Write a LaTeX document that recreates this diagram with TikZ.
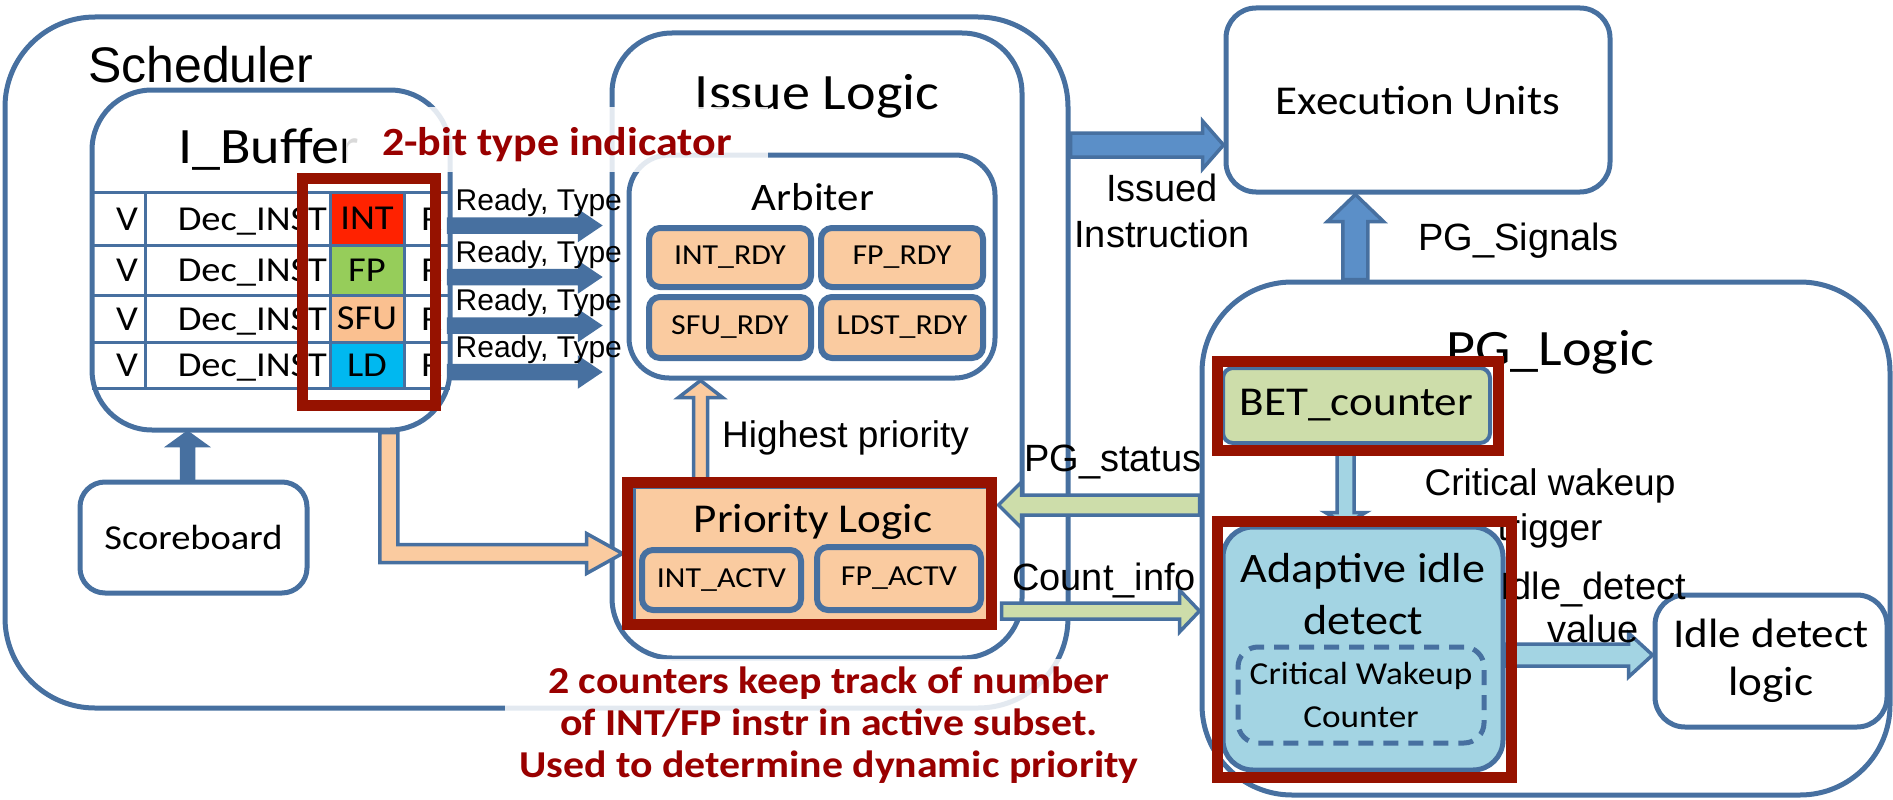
\documentclass[tikz,border=0pt]{standalone}
\usepackage{fontspec}
\setmainfont{Carlito}[FakeStretch=1.1]
\newfontfamily\arialfont{Liberation Sans}
\usetikzlibrary{calc}

\definecolor{boxblue}{RGB}{71,112,160}
\definecolor{arrowblue}{RGB}{91,143,200}
\definecolor{peach}{RGB}{250,203,160}
\definecolor{lightgreen}{RGB}{205,221,170}
\definecolor{lightcyan}{RGB}{163,212,227}
\definecolor{markred}{RGB}{150,18,0}
\definecolor{textred}{RGB}{153,0,0}
\definecolor{intred}{RGB}{255,34,0}
\definecolor{fpgreen}{RGB}{150,205,90}
\definecolor{sfupeach}{RGB}{250,192,144}
\definecolor{ldcyan}{RGB}{0,184,240}

\newcommand{\fsize}[2]{\fontsize{#1pt}{#2pt}\selectfont}
% block arrow: [fill] {from} {to} {half shaft} {half head} {head length}
\newcommand{\blockarrow}[6][]{%
  \coordinate (ba-base) at ($(#3)!#6!(#2)$);
  \draw[arrowline,#1] ($(#2)!#4!90:(#3)$) -- ($(ba-base)!#4!-90:(#2)$)
    -- ($(ba-base)!#5!-90:(#2)$) -- (#3) -- ($(ba-base)!#5!90:(#2)$)
    -- ($(ba-base)!#4!90:(#2)$) -- ($(#2)!#4!-90:(#3)$) -- cycle;
}

\begin{document}
\begin{tikzpicture}[x=1pt, y=-1pt,
  block/.style={draw=boxblue, line width=5pt, rounded corners=#1},
  block/.default=30pt,
  unit/.style={draw=boxblue, line width=6pt, fill=peach, rounded corners=11pt, font=\fsize{29}{34}},
  redframe/.style={draw=markred, line width=11pt},
  arrowline/.style={draw=boxblue, line width=3.5pt},
  sig/.style={font=\arialfont\fsize{38}{46}},
  redcallout/.style={text=textred, font=\bfseries\fsize{38}{42}, fill=white, fill opacity=0.85, text opacity=1},
  tablerule/.style={draw=boxblue, line width=3pt},
  celltext/.style={font=\fsize{35}{40}}]
\useasboundingbox (0,0) rectangle (1893,800);

% containers
\node[block=90pt, minimum width=1063pt, minimum height=691pt] (sched) at (536.5,362.5) {};
\node[block=60pt, minimum width=410pt, minimum height=625pt] (issue) at (817,345.5) {};
\node[block=60pt, minimum width=358pt, minimum height=340pt] (ibuf) at (271,260) {};
\node[block=40pt, minimum width=366pt, minimum height=223pt] (arbiter) at (812,266.5) {};
\node[block=30pt, minimum width=384pt, minimum height=184pt, font=\fsize{41}{49}] (exec) at (1418,100) {Execution Units};
\node[block=90pt, minimum width=688pt, minimum height=513pt] (pglogic) at (1546,538.5) {};
\node[block=30pt, minimum width=232pt, minimum height=132pt, align=center, font=\fsize{41}{48}] (idle) at (1771,661) {Idle detect\\logic};
\node[block=25pt, minimum width=227pt, minimum height=111pt, font=\fsize{35}{42}] (score) at (193.5,537.5) {Scoreboard};

% instruction buffer table
\foreach \ya/\yb/\kind/\col [count=\i] in {192/245/INT/intred, 245/295/FP/fpgreen, 295/342/SFU/sfupeach, 342/388/LD/ldcyan}{
  \node[celltext, fill=\col, minimum width=74pt, minimum height={(\yb-\ya)*1pt}, inner sep=0pt] (type\i) at (367,{(\ya+\yb)/2}) {\kind};
  \node[celltext, anchor=base, inner sep=0pt] (valid\i) at (127,{(\ya+\yb)/2+11.5}) {V};
  \node[celltext, anchor=base east, inner sep=0pt] (inst\i) at (327,{(\ya+\yb)/2+11.5}) {Dec\_INST};
  \node[celltext, anchor=base west, inner sep=0pt] (rdy\i) at (421,{(\ya+\yb)/2+11.5}) {R};
}
\foreach \yl in {192,245,295,342,388} \draw[tablerule] (92,\yl) -- (450,\yl);
\foreach \xl in {145,330,404} \draw[tablerule] (\xl,192) -- (\xl,388);

% ready units
\node[unit, minimum width=162pt, minimum height=59pt] (intrdy) at (730,257.5) {INT\_RDY};
\node[unit, minimum width=162pt, minimum height=59pt] (fprdy) at (902,257.5) {FP\_RDY};
\node[unit, minimum width=162pt, minimum height=61pt] (sfurdy) at (730,327.5) {SFU\_RDY};
\node[unit, minimum width=162pt, minimum height=61pt] (ldstrdy) at (902,327.5) {LDST\_RDY};

% priority logic
\node[draw=boxblue, line width=3pt, fill=peach, minimum width=355pt, minimum height=133pt] (prio) at (811.5,553.5) {};
\node[anchor=base, inner sep=0pt, font=\fsize{41}{48}] (priolabel) at (813,532) {Priority Logic};
\node[unit, minimum width=159pt, minimum height=60pt] (intactv) at (721.5,580) {INT\_ACTV};
\node[unit, minimum width=164pt, minimum height=63pt] (fpactv) at (899,578.5) {FP\_ACTV};

% PG logic parts
\node[draw=boxblue, line width=4pt, fill=lightgreen, rounded corners=10pt, minimum width=267pt, minimum height=75pt, font=\fsize{41}{48}] (bet) at (1356.5,405.5) {BET\_counter};
\node[draw=boxblue, line width=5pt, fill=lightcyan, rounded corners=30pt, minimum width=280pt, minimum height=243pt] (adaptive) at (1363,648.5) {};
\node[align=center, font=\fsize{42}{52}] (adaptlabel) at (1363,594.5) {Adaptive idle\\detect};
\node[draw=boxblue, line width=5pt, dash pattern=on 15pt off 10pt, rounded corners=20pt, minimum width=246pt, minimum height=96pt, align=center, font=\fsize{32}{43}] (cwcount) at (1361,695) {Critical Wakeup\\Counter};

% arrows
\foreach \i in {1,...,4}{
  \coordinate (rs\i) at ($(type\i.east -| ibuf.east)+(-4,7)$);
  \coordinate (re\i) at ($(rs\i -| issue.west)+(-10,0)$);
  \blockarrow[fill=boxblue]{rs\i}{re\i}{6.5pt}{13.5pt}{20pt}
  \node[anchor=base west, inner sep=0pt, font=\arialfont\fsize{30}{36}] (ready\i) at ($(rs\i)+(7,-15)$) {Ready, Type};
}
\coordinate (sb-s) at ($(score.north)+(-6,0)$);
\coordinate (sb-e) at (sb-s |- ibuf.south);
\blockarrow[fill=boxblue]{sb-s}{sb-e}{6pt}{18pt}{13pt}

\coordinate (lstart) at ($(ibuf.south west)!0.825!(ibuf.south east)$);
\coordinate (lend) at ($(prio.west)+(-10,0)$);
\coordinate (lcorner) at (lstart |- lend);
\draw[arrowline, fill=peach] ($(lstart)+(-9,0)$) -- ($(lcorner)+(-9,9)$) -- ($(lend)+(-36,9)$)
  -- ($(lend)+(-36,20)$) -- (lend) -- ($(lend)+(-36,-20)$) -- ($(lend)+(-36,-9)$)
  -- ($(lcorner)+(9,-9)$) -- ($(lstart)+(9,0)$) -- cycle;

\coordinate (hp-s) at ($(prio.north west)!0.19!(prio.north east)$);
\coordinate (hp-e) at (hp-s |- arbiter.south);
\blockarrow[fill=peach]{hp-s}{hp-e}{7pt}{22pt}{17pt}

\coordinate (is-e) at ($(exec.west)+(0,45)$);
\coordinate (is-s) at (sched.east |- is-e);
\blockarrow[fill=arrowblue]{is-s}{is-e}{12pt}{24pt}{21pt}

\coordinate (ps-s) at ($(pglogic.north west)!0.225!(pglogic.north east)$);
\coordinate (ps-e) at (ps-s |- exec.south);
\blockarrow[fill=arrowblue]{ps-s}{ps-e}{12.5pt}{28pt}{27pt}

\coordinate (st-s) at ($(pglogic.west)+(0,-33.5)$);
\coordinate (st-e) at ($(st-s -| prio.east)+(8,0)$);
\blockarrow[fill=lightgreen]{st-s}{st-e}{10pt}{23pt}{23pt}

\coordinate (ci-s) at ($(prio.east)+(11,57.5)$);
\coordinate (ci-e) at (ci-s -| pglogic.west);
\blockarrow[fill=lightgreen]{ci-s}{ci-e}{8pt}{21pt}{20pt}

\coordinate (cw-s) at ($(bet.south)+(-11,0)$);
\coordinate (cw-e) at (cw-s |- adaptive.north);
\blockarrow[fill=lightcyan]{cw-s}{cw-e}{8.5pt}{20pt}{12pt}

\coordinate (iv-s) at ($(adaptive.east)+(0,6.5)$);
\coordinate (iv-e) at (iv-s -| idle.west);
\blockarrow[fill=lightcyan]{iv-s}{iv-e}{11pt}{22pt}{24pt}

% labels
\node[anchor=base west, inner sep=0pt, font=\arialfont\fsize{50}{60}] (schedlabel) at (88,83) {Scheduler};
\node[anchor=base west, inner sep=0pt, font=\fsize{51}{60}] (ibuflabel) at (178,163) {I\_Buffer};
\node[anchor=base, inner sep=0pt, font=\fsize{51}{60}] (issuelabel) at (817,110) {Issue Logic};
\node[anchor=base, inner sep=0pt, font=\fsize{39}{46}] (arblabel) at (813,210) {Arbiter};
\node[anchor=base west, inner sep=0pt, font=\fsize{51}{60}] (pglabel) at (1446,365) {PG\_Logic};
\node[sig, align=center] (issuedlabel) at (1162,211) {Issued\\Instruction};
\node[sig, anchor=base west, inner sep=0pt] (pgsiglabel) at (1418,250) {PG\_Signals};
\node[anchor=base west, inner sep=0pt, font=\arialfont\fsize{37}{44}] (hplabel) at (722,447) {Highest priority};
\node[sig, anchor=base west, inner sep=0pt] (statuslabel) at (1024,471) {PG\_status};
\node[sig, anchor=base west, inner sep=0pt] (countlabel) at (1012,590) {Count\_info};
\node[align=center, font=\arialfont\fsize{37}{45}] (wakelabel) at (1550,508) {Critical wakeup\\trigger};
\node[align=center, font=\arialfont\fsize{38}{43}] (valuelabel) at (1593,607.5) {Idle\_detect\\value};

% highlight frames
\node[redframe, minimum width=133pt, minimum height=227pt] (typeframe) at (368.5,291.5) {};
\node[redframe, minimum width=364pt, minimum height=142pt] (prioframe) at (809.5,553.5) {};
\node[redframe, minimum width=281pt, minimum height=89pt] (betframe) at (1357.5,405.5) {};
\node[redframe, minimum width=294pt, minimum height=256pt] (adaptframe) at (1364,649) {};

% notes
\node[redcallout, anchor=base, font=\bfseries\fsize{40}{48}, inner xsep=36pt, inner ysep=3pt, text height=45pt, text depth=14pt] (typenote) at (557,155) {2-bit type indicator};
\node[redcallout, align=center, inner xsep=14pt, inner ysep=8pt] (counternote) at (829,725.5) {2 counters keep track of number\\of INT/FP instr in active subset.\\Used to determine dynamic priority};
\end{tikzpicture}
\end{document}
